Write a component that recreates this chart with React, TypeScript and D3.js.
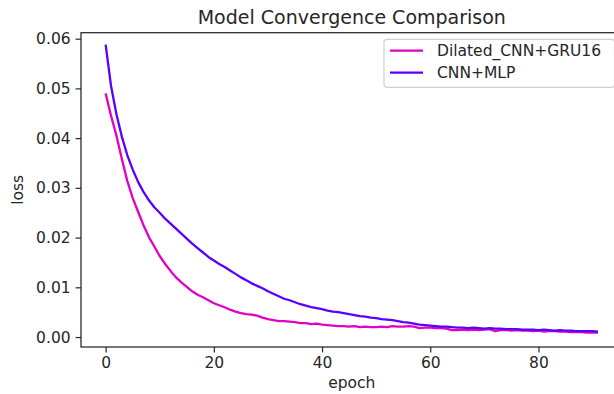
import React, { useEffect, useRef } from "react";
import * as d3 from "d3";

// === Data ===
const epochs = d3.range(0, 92);

const dilatedLoss = [
  0.0490, 0.0445, 0.0405, 0.0358, 0.0314, 0.0280, 0.0252, 0.0225, 0.0201, 0.0182,
  0.0163, 0.0147, 0.0133, 0.0120, 0.0110, 0.0101, 0.0092, 0.0085, 0.0080, 0.0074,
  0.0068, 0.0064, 0.0060, 0.0055, 0.0051, 0.0048, 0.0046, 0.0045, 0.0043, 0.0039,
  0.0036, 0.0034, 0.0032, 0.0032, 0.0031, 0.0030, 0.0028, 0.0028, 0.0026, 0.0027,
  0.0025, 0.0024, 0.0023, 0.0022, 0.0022, 0.0021, 0.0022, 0.0020, 0.0021, 0.0020,
  0.0020, 0.0021, 0.0020, 0.0022, 0.0021, 0.0021, 0.0022, 0.0021, 0.0018, 0.0019,
  0.0019, 0.0018, 0.0018, 0.0017, 0.0014, 0.0014, 0.0015, 0.0014, 0.0015, 0.0014,
  0.0015, 0.0016, 0.0012, 0.0014, 0.0014, 0.0013, 0.0014, 0.0013, 0.0013, 0.0012,
  0.0013, 0.0011, 0.0012, 0.0012, 0.0011, 0.0011, 0.0010, 0.0010, 0.0010, 0.0009,
  0.0009, 0.0009,
];

const mlpLoss = [
  0.0588, 0.0505, 0.0448, 0.0403, 0.0366, 0.0337, 0.0312, 0.0292, 0.0275, 0.0261,
  0.0250, 0.0238, 0.0228, 0.0218, 0.0208, 0.0198, 0.0188, 0.0179, 0.0170, 0.0161,
  0.0154, 0.0147, 0.0141, 0.0134, 0.0127, 0.0120, 0.0114, 0.0108, 0.0103, 0.0098,
  0.0092, 0.0087, 0.0082, 0.0077, 0.0074, 0.0070, 0.0066, 0.0063, 0.0060, 0.0058,
  0.0056, 0.0053, 0.0051, 0.0050, 0.0048, 0.0046, 0.0044, 0.0042, 0.0041, 0.0039,
  0.0038, 0.0036, 0.0035, 0.0034, 0.0032, 0.0030, 0.0029, 0.0027, 0.0025, 0.0024,
  0.0023, 0.0022, 0.0021, 0.0021, 0.0020, 0.0019, 0.0019, 0.0018, 0.0019, 0.0018,
  0.0017, 0.0018, 0.0017, 0.0017, 0.0016, 0.0016, 0.0016, 0.0015, 0.0015, 0.0015,
  0.0014, 0.0015, 0.0014, 0.0013, 0.0014, 0.0013, 0.0013, 0.0012, 0.0012, 0.0012,
  0.0012, 0.0011,
];

const seriesNames = ["Dilated_CNN+GRU16", "CNN+MLP"];
const seriesColors = ["#e200c4", "#5a00ff"];
const xTicks = [0, 20, 40, 60, 80];
const yTicks = [0, 0.01, 0.02, 0.03, 0.04, 0.05, 0.06];

const App = () => {
  const ref = useRef<SVGSVGElement>(null);

  useEffect(() => {
    const svg = d3.select(ref.current);
    svg.selectAll("*").remove();

    const width = 614;
    const height = 394;
    const left = 81;
    const right = 622.6;
    const top = 32.7;
    const bottom = 347;
    const font = "DejaVu Sans, sans-serif";
    const ink = "#262626";

    const x = d3.scaleLinear().domain([-4.55, 95.55]).range([left, right]);
    const y = d3.scaleLinear().domain([-0.002, 0.0612]).range([bottom, top]);

    svg.attr("width", width).attr("height", height);
    svg.append("rect").attr("width", width).attr("height", height).attr("fill", "#fff");

    // lines
    const line = d3
      .line<number>()
      .x((_, i) => x(epochs[i]))
      .y((d) => y(d));

    [dilatedLoss, mlpLoss].forEach((s, i) => {
      svg
        .append("path")
        .datum(s)
        .attr("d", line)
        .attr("fill", "none")
        .attr("stroke", seriesColors[i])
        .attr("stroke-width", 2.3)
        .attr("stroke-linejoin", "round");
    });

    // axes
    const xAxis = svg
      .append("g")
      .attr("transform", `translate(0,${bottom})`)
      .call(d3.axisBottom(x).tickValues(xTicks).tickSize(5.4).tickPadding(5).tickFormat(d3.format("d")));
    const yAxis = svg
      .append("g")
      .attr("transform", `translate(${left},0)`)
      .call(d3.axisLeft(y).tickValues(yTicks).tickSize(5.4).tickPadding(5).tickFormat(d3.format(".2f")));

    [xAxis, yAxis].forEach((g) => {
      g.select(".domain").remove();
      g.selectAll("line").attr("stroke", ink).attr("stroke-width", 1.2);
      g.selectAll("text").attr("fill", ink).attr("font-family", font).attr("font-size", 15.5);
    });

    // frame
    svg
      .append("rect")
      .attr("x", left)
      .attr("y", top)
      .attr("width", right - left)
      .attr("height", bottom - top)
      .attr("fill", "none")
      .attr("stroke", ink)
      .attr("stroke-width", 1.25);

    // titles
    svg
      .append("text")
      .attr("x", (left + right) / 2)
      .attr("y", 23.5)
      .attr("text-anchor", "middle")
      .attr("font-family", font)
      .attr("font-size", 19)
      .attr("fill", ink)
      .text("Model Convergence Comparison");

    svg
      .append("text")
      .attr("x", (left + right) / 2)
      .attr("y", 388)
      .attr("text-anchor", "middle")
      .attr("font-family", font)
      .attr("font-size", 15.5)
      .attr("fill", ink)
      .text("epoch");

    svg
      .append("text")
      .attr("transform", `translate(23,${(top + bottom) / 2}) rotate(-90)`)
      .attr("text-anchor", "middle")
      .attr("font-family", font)
      .attr("font-size", 15.5)
      .attr("fill", ink)
      .text("loss");

    // legend
    const lg = svg.append("g");
    lg.append("rect")
      .attr("x", 384)
      .attr("y", 39.3)
      .attr("width", 230.5)
      .attr("height", 48)
      .attr("rx", 3)
      .attr("fill", "#fff")
      .attr("fill-opacity", 0.8)
      .attr("stroke", "#d0d0d0")
      .attr("stroke-width", 1.2);

    seriesNames.forEach((name, i) => {
      const cy = 50.7 + i * 22;
      lg.append("line")
        .attr("x1", 390)
        .attr("x2", 423)
        .attr("y1", cy)
        .attr("y2", cy)
        .attr("stroke", seriesColors[i])
        .attr("stroke-width", 2.3);
      lg.append("text")
        .attr("x", 437)
        .attr("y", cy)
        .attr("dy", "0.36em")
        .attr("font-family", font)
        .attr("font-size", 15.5)
        .attr("fill", ink)
        .text(name);
    });
  }, []);

  return (
    <svg
      ref={ref}
      style={{ position: "fixed", left: 0, top: 0, display: "block" }}
      viewBox="0 0 614 394"
    />
  );
};

export default App;
